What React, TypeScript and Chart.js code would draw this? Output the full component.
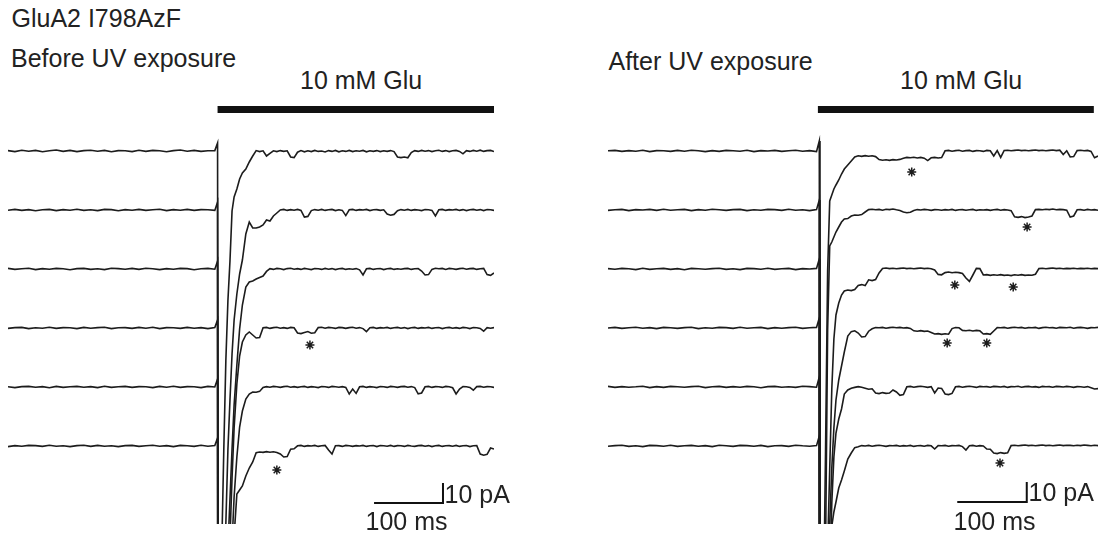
import React, { useEffect, useRef } from "react";
import { Chart, registerables } from "chart.js";

Chart.register(...registerables);

// ---------- sampling (ms) ----------
const BASE_STEP_MS = 10; // baseline samples at 0,10,...,300
const TRANSIENT_T = [304, 305, 306, 308, 310, 313, 316, 319, 322, 325, 328, 332, 336, 340, 345, 350, 355];
const PLATEAU_START_MS = 360; // plateau samples at 360,365,...,705
const PLATEAU_STEP_MS = 5;
const TRACE_SPACING_PA = 29.5;
const X_MAX_MS = 705;
const Y_MAX_PA = 28;
const Y_MIN_PA = -186.5;

// ---------- BEFORE UV (left) : currents in pA ----------
const L1_BASE = [0.2,-0.3,0.4,-0.1,0.3,-0.4,0.1,0.5,-0.2,0.3,-0.3,0.2,0.4,-0.1,0.3,-0.4,0.2,0.1,-0.3,0.4,-0.2,0.3,0.1,-0.4,0.2,0.5,-0.1,0.3,-0.2,0.1,0.2];
const L2_BASE = [-0.1,0.3,-0.2,0.2,-0.4,0.1,0.3,-0.3,0.2,-0.1,0.4,-0.2,0.1,-0.3,0.3,0.2,-0.4,0.2,-0.1,0.3,-0.2,0.1,0.4,-0.3,0.2,-0.1,0.3,-0.2,0.2,0.1,-0.2];
const L3_BASE = [0.3,-0.2,0.1,0.4,-0.3,0.2,-0.1,0.3,0.1,-0.4,0.2,0.3,-0.2,0.1,-0.3,0.4,0.2,-0.1,0.3,-0.2,0.4,0.1,-0.3,0.2,-0.1,0.3,0.2,-0.4,0.1,0.3,-0.1];
const L4_BASE = [-0.2,0.2,0.3,-0.3,0.1,-0.1,0.4,-0.2,0.2,0.1,-0.3,0.3,-0.1,0.2,0.4,-0.3,0.1,0.2,-0.2,0.3,-0.1,0.4,-0.3,0.2,0.1,-0.2,0.3,-0.1,0.2,-0.3,0.2];
const L5_BASE = [0.1,-0.3,0.2,0.3,-0.1,0.2,-0.4,0.3,-0.2,0.1,0.3,-0.1,0.2,-0.3,0.4,-0.2,0.1,0.3,-0.2,0.2,0.1,-0.3,0.3,-0.1,0.4,-0.2,0.2,0.1,-0.3,0.3,0];
const L6_BASE = [-0.3,0.2,-0.1,0.3,0.2,-0.2,0.4,-0.1,0.1,-0.3,0.2,0.4,-0.2,0.3,-0.1,0.1,-0.3,0.2,0.3,-0.2,0.1,0.4,-0.1,0.2,-0.3,0.3,0.1,-0.2,0.4,-0.1,0.2];

const L1_TRANS = [4,-320,-330,-270,-200,-150,-105,-75,-55,-30,-23,-19,-14,-11,-9,-5.5,-2.5];
const L2_TRANS = [4,-320,-330,-300,-260,-200,-157,-120,-95,-72,-55,-42,-32,-25,-12,-6,-9];
const L3_TRANS = [4,-320,-330,-310,-280,-230,-175,-140,-115,-90,-68,-48,-30,-18,-9,-6.5,-6];
const L4_TRANS = [4,-320,-330,-320,-290,-240,-190,-140,-105,-75,-50,-28,-14,-7,-3.5,-2,-3.5];
const L5_TRANS = [4,-320,-330,-325,-300,-260,-200,-150,-110,-78,-55,-35,-20,-12,-6,-3.5,-2.5];
const L6_TRANS = [4,-320,-330,-330,-310,-270,-220,-160,-110,-70,-45,-24,-22,-20,-15,-11,-8];

const L1_PLAT = [0.2,-0.3,0.1,-2.5,-1.2,0.1,-0.3,0.2,-0.2,0.1,-3,-3.3,-0.6,0.2,-0.4,0.1,-0.3,0.3,-0.2,0,-0.5,0.2,-0.2,0.3,-0.4,0.1,-0.2,0.3,-0.3,0.1,-0.1,0.3,-0.4,0.1,-0.2,0.2,-0.3,0.1,-0.2,0.2,-0.3,-3,-3.3,-3,-3.4,-0.8,0.2,-0.2,0.3,-0.1,0.2,-0.3,0.1,0.4,-0.2,0.2,-0.3,0.1,0.3,-0.2,-1.4,0.2,-0.2,0.3,-0.1,0.4,-0.2,0.2,0.3,-0.3];
const L2_PLAT = [-9,-8.5,-7.5,-5,-5.5,-3,-1.5,0,0.3,-0.2,0.2,-0.1,0.3,-0.2,-3.5,-3.2,-0.3,0.2,-0.1,0.3,-0.2,0.1,0.3,-0.3,0.1,-0.2,-2.8,0.1,0.3,-0.2,0.2,0,0.3,-0.3,0.1,0.2,-0.2,0.1,-2,-2.6,-2.2,-0.4,0.2,-0.1,0.3,-0.2,0.2,0,-0.3,0.2,0.1,-0.2,-3,0.1,0.3,-0.2,0.2,0,0.3,-0.2,0.2,-0.3,0.1,0.3,-0.1,0.2,-0.3,0.2,0.1,-0.2];
const L3_PLAT = [-5,-4.2,-3.5,-1.2,0.2,-0.2,0.3,0.1,-0.3,0.2,0.4,-0.1,0.2,-0.2,0.3,0,-0.3,0.2,0.1,-0.2,0.3,-0.1,0.2,-0.3,0.1,0.3,-0.2,0.1,-0.1,0.2,-0.4,-3,0.1,0.3,-0.2,0.1,0.2,-0.3,0.1,0.3,-0.2,0.1,-0.1,0.2,0.3,-0.2,0.1,0.2,-1,-3,-2.8,-0.2,0.4,0.1,0.3,-0.2,0.3,0.1,-0.2,0.2,0.4,-0.1,0.2,0.3,-0.2,0.1,0.3,-2.8,-3.2,-2];
const L4_PLAT = [-5,-4.8,0.1,0.3,-0.2,0.2,0.4,-0.1,0.2,-0.2,0.3,0.1,-2.5,-2.8,-2.3,-1.8,-2.6,-2.4,0.2,0.4,-0.1,0.3,0.1,-0.2,0.3,0.2,-0.2,0.2,0.4,-0.1,0.2,-0.3,-1.8,0.1,0.3,-0.2,0.2,0,0.3,-0.2,0.1,0.3,-0.1,0.2,-0.3,0.1,0.3,-0.2,0.2,0,0.3,-0.2,0.1,0.2,-0.3,0.1,0.3,-0.1,0.2,-0.2,0.3,0.1,-0.3,0.2,0.1,-0.2,-1.6,0.2,-0.1,0.2];
const L5_PLAT = [-2.6,-2.2,-0.2,0.2,-0.1,0.3,0.1,-0.2,0.2,0.4,-0.1,0.2,-0.2,0.1,0.3,-0.2,0.2,0,-0.3,0.2,0.1,-0.2,0.3,0.1,-0.1,0.2,-0.2,-3.5,-1,-3.2,0.1,0.3,-0.2,0.2,0,-0.3,0.2,0.1,-0.2,0.3,0.1,-0.2,0.2,0.3,-0.1,0.2,-0.3,-3.4,-3,0.1,0.3,-0.2,0.2,0.1,-0.2,0.3,0.1,-0.4,-3.5,-1,0.2,0.1,-0.2,-1.6,0.2,0.3,-0.1,0.2,0.1,-0.2];
const L6_PLAT = [-3.4,-3,-3.2,-2.8,-3.1,-2.9,-3.2,-4,-5.5,-5.3,-1.6,-1.4,0.1,0.3,-0.2,0.2,0,0.3,-0.2,0.1,0.3,-2,-4,0.1,0.2,-0.2,0.3,0.1,-0.2,0.2,0,0.3,-0.2,0.1,0.2,-0.3,0.2,0.1,-0.1,0.3,-0.2,0.2,0.1,-0.2,0.3,0,-0.2,0.2,0.3,-0.1,0.2,-0.3,0.1,0.3,-0.2,0.1,0.2,-0.1,0.3,-0.2,0.1,0.2,-0.3,0.1,0.2,-4,-4.6,-4.2,-1,-1.5];

// ---------- AFTER UV (right) : currents in pA ----------
const R1_BASE = [0.1,0.3,-0.2,0.2,-0.1,0.4,-0.3,0.2,0.1,-0.2,0.3,-0.1,0.4,0.1,-0.3,0.2,-0.2,0.3,0.1,-0.1,0.4,-0.3,0.2,0,0.3,-0.2,0.1,0.4,-0.1,0.2,-0.3];
const R2_BASE = [-0.2,0.1,0.3,-0.3,0.2,0,0.3,-0.2,0.4,-0.1,0.1,0.3,-0.3,0.2,-0.1,0.4,0.1,-0.2,0.2,0.3,-0.3,0.1,-0.1,0.3,0.2,-0.2,0.4,-0.1,0.1,-0.3,0.2];
const R3_BASE = [0.2,-0.1,0.3,0.1,-0.3,0.4,-0.2,0.1,0.3,-0.2,0.2,-0.4,0.3,0.1,-0.1,0.2,0.4,-0.2,0.1,-0.3,0.3,0.2,-0.1,0.4,-0.2,0.1,0.3,-0.3,0.2,0,0.3];
const R4_BASE = [0,0.3,-0.2,0.1,0.4,-0.1,0.2,-0.3,0.3,0.1,-0.2,0.2,0.4,-0.3,0.1,-0.1,0.3,0.2,-0.2,0.4,-0.1,0.1,0.3,-0.3,0.2,-0.1,0.2,0.4,-0.2,0.1,0.3];
const R5_BASE = [0.3,-0.2,0.2,-0.1,0.1,0.4,-0.3,0.2,-0.2,0.3,0.1,-0.1,0.2,0.4,-0.3,0.1,0.3,-0.2,0.2,-0.1,0.3,0.1,-0.4,0.2,0.3,-0.1,0.1,-0.2,0.4,0.2,-0.1];
const R6_BASE = [-0.1,0.2,0.4,-0.2,0.1,-0.3,0.3,0.2,-0.1,0.4,-0.2,0.1,0.3,-0.1,0.2,-0.3,0.4,0.1,-0.2,0.3,0.2,-0.1,0.3,-0.3,0.1,0.2,-0.2,0.4,0.1,-0.1,0.2];

const R1_TRANS = [5,-330,-340,-300,-230,-150,-60,-25,-22,-19,-17,-14.5,-11.5,-9,-7,-5,-3];
const R2_TRANS = [5,-330,-330,-290,-230,-170,-60,-18,-16,-13.5,-11,-8.5,-6,-4.5,-4.3,-3,-2.5];
const R3_TRANS = [5,-330,-330,-300,-250,-190,-140,-100,-60,-35,-23,-17,-13,-11,-10.5,-10.8,-10.3];
const R4_TRANS = [5,-330,-330,-310,-280,-220,-150,-98,-70,-50,-36,-26,-19,-12,-4,-1.8,-1.4];
const R5_TRANS = [5,-330,-330,-320,-290,-230,-160,-95,-58,-35,-23,-16,-11,-3.5,-1.5,-0.6,-0.2];
const R6_TRANS = [5,-330,-330,-325,-310,-260,-180,-90,-40,-33,-28,-21,-17,-12.5,-6.5,-3.5,-0.8];

const R1_PLAT = [-2.4,-2.7,-2.3,-2.6,-2.4,-2.8,-4.3,-4.6,-4.4,-4.7,-4.3,-4.5,-4.2,-3.6,-3.2,-3.4,-3.1,-3.5,-3.2,-3.6,-4.8,-3.4,-3.2,-3.5,-3.3,0.1,0.3,-0.1,0.2,0.4,-0.1,0.2,0.3,-0.2,0.2,0.1,-0.2,0.3,0.1,-2.5,0.2,-3.2,0.3,0.4,0.1,0.3,0.5,0.2,0.4,0.1,0.3,0.5,0.2,0.4,0.1,0.3,0.5,0.2,0.4,-1.8,0.1,-3,-2.8,0.2,0.4,0.1,0.3,-0.2,-3.4,-2.5];
const R2_PLAT = [-2.6,-2.3,-1,0.2,0.4,0.1,0.3,-0.1,0.4,0.2,0.5,0.1,-0.2,-1,-1.4,-1.1,-0.3,0.2,0,0.3,0.1,-0.2,0.2,0.1,-0.1,0.2,0,0.3,-0.2,0.1,0.2,-0.1,0.1,0.3,-0.2,0.1,0,0.2,-0.2,0.1,0.3,-0.1,0.2,0,-0.3,-3.4,-3.7,-3.3,-3.8,-3.5,-3,0.2,0.3,0.1,0.4,0.2,0.5,0.1,0.3,0.2,-0.1,-3.5,-3,0.1,0.2,-0.1,0.3,0,0.2,-0.1];
const R3_PLAT = [-8.2,-7.8,-8.3,-5.4,-5.8,-5.3,-2,0.3,0.5,0.2,0.4,0.1,0.3,0.5,0.2,0.4,0.1,0.3,0.5,0.2,0.4,0.1,-0.5,-2.7,-2.9,-1.8,-1.5,-1.9,-1.6,-1.8,-2.2,-4.5,-6.2,-3,0.3,0.2,-3,-2.8,-3.2,-2.9,-3.1,-2.8,-3.2,-3,-3.3,-2.9,-3.1,-2.8,-3.2,-3,-3.1,-2.6,0.2,0.4,0.1,0.3,0.5,0.2,0.4,0.1,0.3,0.2,0.4,0.1,0.3,0.2,0.4,0.1,0.3,0.2];
const R4_PLAT = [-2.5,-4.5,-4.3,-1.6,-0.4,0.2,0.1,0.3,-0.1,0.2,0.4,0.1,0.3,0,0.2,-0.2,-1.4,-1.6,-1.3,-1.7,-1.5,-2.2,-3,-2.8,-3.2,-2.9,-3.1,-0.3,0.2,0.1,-1.2,-1.4,-1.1,-1.5,-1.2,-1.4,-3,-2.8,-3.2,-1.5,0.2,0.1,0.3,-0.1,0.2,0.4,0.1,0.3,-0.1,0.2,0.1,0.3,-0.2,0.2,0.4,0.1,0.2,-0.1,0.3,0.2,0.1,0.4,-0.1,0.2,0.3,0.1,-0.2,0.2,0.1,0.3];
const R5_PLAT = [0.2,-0.1,-0.6,-1.1,-0.9,-3,-3.3,-2.8,-3.2,-3,-1.5,-2.5,-4.2,-3.8,0.1,0.3,-0.1,0.2,0.4,0.1,-0.2,0.2,-3,-0.5,-0.7,-3.5,-3.8,-3.2,0.1,0.3,-0.1,0.2,0.4,0.1,-0.2,0.3,0.1,0.2,-0.1,0.3,0.2,0,0.3,-0.2,0.2,0.1,0.4,-0.1,0.2,0.3,0,0.2,-0.2,0.3,0.1,0.2,-0.1,0.3,0.2,0,0.3,0.1,-0.2,0.2,0.1,-0.1,0.2,-0.4,-1,-0.8];
const R6_PLAT = [-0.4,0.2,0,0.3,-0.1,0.2,0.4,0.1,-0.2,0.2,0.1,0.3,-0.1,0.2,0,0.3,-0.2,0.1,0.2,-0.1,0.3,0.1,-1.5,0.2,0.1,0.3,-0.1,0.2,0.1,0.3,-0.3,-2,0.1,0.3,-0.1,0.2,0,-1.5,-1.6,-3.5,-3.8,-3.3,-3.7,-3.4,0.2,0.4,0.1,0.3,0.5,0.2,0.4,0.1,0.3,0.5,0.2,0.4,0.1,0.3,0.5,0.2,0.4,0.3,0.1,0.4,0.2,0.5,0.3,0.1,0.4,0.2];

// ---------- annotations (ms, stacked pA) ----------
const LEFT_STARS = [{ x: 438, y: -97 }, { x: 390, y: -159.5 }];
const RIGHT_STARS = [
  { x: 437, y: -10.5 }, { x: 603, y: -38 }, { x: 499, y: -67 }, { x: 583, y: -68 },
  { x: 488, y: -96 }, { x: 545, y: -96 }, { x: 564, y: -156 },
];
const GLU_LEVEL_PA = 20.75;
const LEFT_GLU = [304, 705];
const RIGHT_GLU = [302, 699];
const SCALE_MS = 100;
const SCALE_PA = 10;
const LEFT_SCALE_CORNER = { x: 631, y: -176 };
const RIGHT_SCALE_CORNER = { x: 602.5, y: -175.5 };

type Pt = { x: number; y: number };

function buildTrace(base: number[], trans: number[], plat: number[], k: number): Pt[] {
  const off = -k * TRACE_SPACING_PA;
  const pts: Pt[] = [];
  base.forEach((v, i) => pts.push({ x: i * BASE_STEP_MS, y: off + v }));
  trans.forEach((v, i) => pts.push({ x: TRANSIENT_T[i], y: off + v }));
  plat.forEach((v, i) => pts.push({ x: PLATEAU_START_MS + i * PLATEAU_STEP_MS, y: off + v }));
  return pts;
}

const LEFT_TRACES = [
  [L1_BASE, L1_TRANS, L1_PLAT], [L2_BASE, L2_TRANS, L2_PLAT], [L3_BASE, L3_TRANS, L3_PLAT],
  [L4_BASE, L4_TRANS, L4_PLAT], [L5_BASE, L5_TRANS, L5_PLAT], [L6_BASE, L6_TRANS, L6_PLAT],
];
const RIGHT_TRACES = [
  [R1_BASE, R1_TRANS, R1_PLAT], [R2_BASE, R2_TRANS, R2_PLAT], [R3_BASE, R3_TRANS, R3_PLAT],
  [R4_BASE, R4_TRANS, R4_PLAT], [R5_BASE, R5_TRANS, R5_PLAT], [R6_BASE, R6_TRANS, R6_PLAT],
];

const INK = "#1c1c1c";

function TracePanel(props: {
  left: number; width: number; traces: number[][][]; stars: Pt[]; glu: number[]; corner: Pt;
}) {
  const ref = useRef<HTMLCanvasElement | null>(null);
  useEffect(() => {
    if (!ref.current) return;
    const datasets: any[] = props.traces.map((t, k) => ({
      data: buildTrace(t[0], t[1], t[2], k),
      borderColor: INK,
      borderWidth: 1.6,
      pointRadius: 0,
      tension: 0,
      fill: false,
    }));
    datasets.push({
      data: [{ x: props.glu[0], y: GLU_LEVEL_PA }, { x: props.glu[1], y: GLU_LEVEL_PA }],
      borderColor: "#111",
      borderWidth: 7,
      pointRadius: 0,
    });
    const c = props.corner;
    datasets.push({
      data: [{ x: c.x - SCALE_MS, y: c.y }, { x: c.x, y: c.y }, { x: c.x, y: c.y + SCALE_PA }],
      borderColor: "#111",
      borderWidth: 2,
      pointRadius: 0,
      borderJoinStyle: "miter",
    });
    datasets.push({
      data: props.stars,
      showLine: false,
      pointStyle: "star",
      pointRadius: 4.5,
      borderWidth: 1.5,
      borderColor: INK,
      backgroundColor: INK,
    });
    const chart = new Chart(ref.current, {
      type: "line",
      data: { datasets },
      options: {
        responsive: false,
        animation: false,
        devicePixelRatio: 1,
        layout: { padding: 0, autoPadding: false },
        plugins: { legend: { display: false }, tooltip: { enabled: false }, title: { display: false } },
        events: [],
        scales: {
          x: { type: "linear", min: 0, max: X_MAX_MS, display: false },
          y: { type: "linear", min: Y_MIN_PA, max: Y_MAX_PA, display: false },
        },
      },
    });
    return () => chart.destroy();
  }, []);
  return (
    <canvas
      ref={ref}
      width={props.width}
      height={429}
      style={{ position: "absolute", left: props.left, top: 95, width: props.width, height: 429 }}
    />
  );
}

const FONT = '"Liberation Sans", Arial, Helvetica, sans-serif';

function Label(props: { text: string; left: number; top: number }) {
  return (
    <div
      style={{
        position: "absolute",
        left: props.left,
        top: props.top,
        fontFamily: FONT,
        fontSize: 25,
        lineHeight: "25px",
        color: "#222",
        whiteSpace: "nowrap",
      }}
    >
      {props.text}
    </div>
  );
}

export default function App() {
  return (
    <div style={{ position: "absolute", left: 0, top: 0, width: 1102, height: 538, background: "#fff", overflow: "hidden" }}>
      <TracePanel left={8} width={486} traces={LEFT_TRACES} stars={LEFT_STARS} glu={LEFT_GLU} corner={LEFT_SCALE_CORNER} />
      <TracePanel left={608} width={490} traces={RIGHT_TRACES} stars={RIGHT_STARS} glu={RIGHT_GLU} corner={RIGHT_SCALE_CORNER} />
      <Label text="GluA2 I798AzF" left={11.5} top={5.8} />
      <Label text="Before UV exposure" left={11} top={45.8} />
      <Label text="After UV exposure" left={608.5} top={49.3} />
      <Label text="10 mM Glu" left={300} top={67.8} />
      <Label text="10 mM Glu" left={900} top={67.8} />
      <Label text="10 pA" left={444.5} top={481.8} />
      <Label text="10 pA" left={1028.5} top={479.8} />
      <Label text="100 ms" left={365.5} top={508.8} />
      <Label text="100 ms" left={953.5} top={508.8} />
    </div>
  );
}
